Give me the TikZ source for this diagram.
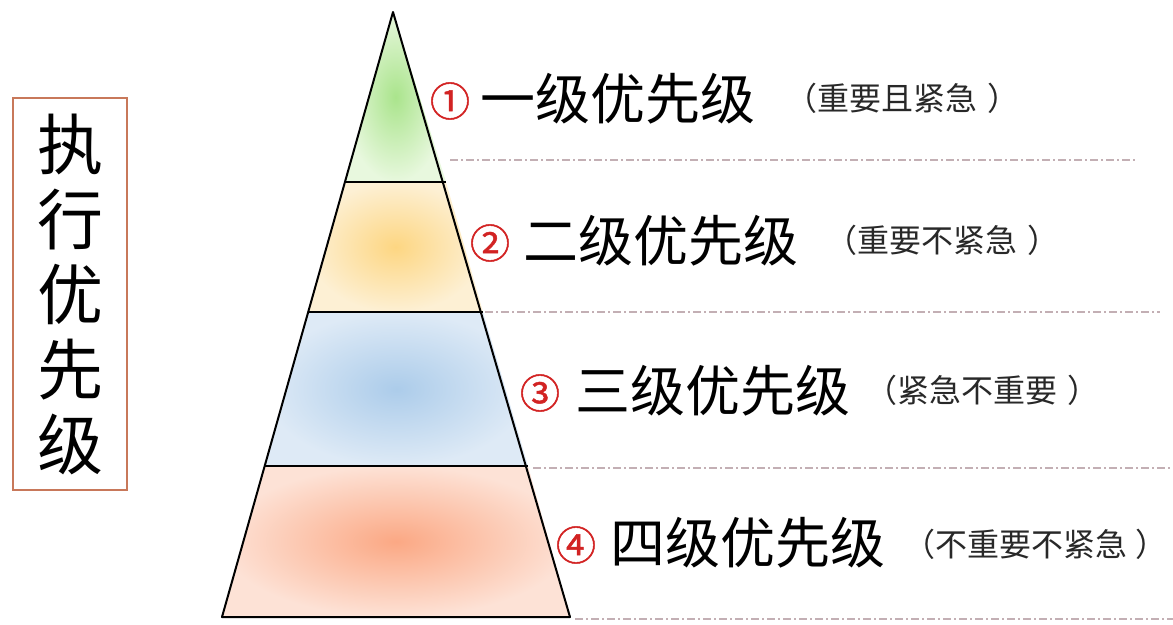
\documentclass[tikz,border=0pt]{standalone}
\usepackage{fontspec}
\newfontfamily\cjk{Noto Sans CJK SC}
\newfontfamily\numfont[FakeBold=1.2]{Noto Sans CJK SC}
\begin{document}
\begin{tikzpicture}[x=1pt,y=-1pt,
  edge/.style={draw=black,line width=2pt,line join=round},
  sep/.style={draw={rgb,255:red,195;green,175;blue,180},line width=1.4pt,dash pattern=on 8pt off 3pt on 2pt off 3pt},
  num/.style={font=\numfont\fontsize{40}{40}\selectfont,text={rgb,255:red,210;green,35;blue,35},inner sep=0pt},
  lvl/.style={font=\cjk\fontsize{55}{55}\selectfont,anchor=west,inner sep=0pt},
  note/.style={font=\cjk\fontsize{32}{32}\selectfont,anchor=west,inner sep=0pt,text={rgb,255:red,40;green,40;blue,40}}]
\useasboundingbox (0,0) rectangle (1173,624);
% pyramid corners
\coordinate (A) at (393,12);
\coordinate (L1) at (345,182); \coordinate (R1) at (446,182);
\coordinate (L2) at (308,312); \coordinate (R2) at (483,312);
\coordinate (L3) at (265,466); \coordinate (R3) at (528,466);
\coordinate (L4) at (222,617); \coordinate (R4) at (570,617);
% layers
\shade[inner color={rgb,255:red,170;green,228;blue,140},outer color={rgb,255:red,232;green,248;blue,222}] (A) -- (R1) -- (L1) -- cycle;
\shade[inner color={rgb,255:red,253;green,214;blue,130},outer color={rgb,255:red,253;green,240;blue,212}] (L1) -- (R1) -- (R2) -- (L2) -- cycle;
\shade[inner color={rgb,255:red,172;green,204;blue,234},outer color={rgb,255:red,222;green,234;blue,246}] (L2) -- (R2) -- (R3) -- (L3) -- cycle;
\shade[inner color={rgb,255:red,251;green,168;blue,132},outer color={rgb,255:red,253;green,226;blue,214}] (L3) -- (R3) -- (R4) -- (L4) -- cycle;
\draw[edge] (A) -- (R4) -- (L4) -- cycle;
\draw[edge] (L1) -- (R1);
\draw[edge] (L2) -- (R2);
\draw[edge] (L3) -- (R3);
% separators
\coordinate (s1a) at (450,160); \coordinate (s1b) at (1135,160);
\coordinate (s2a) at (485,312); \coordinate (s2b) at (1160,312);
\coordinate (s3a) at (533,468); \coordinate (s3b) at (1173,468);
\coordinate (s4a) at (575,619); \coordinate (s4b) at (1173,619);
\draw[sep] (s1a) -- (s1b);
\draw[sep] (s2a) -- (s2b);
\draw[sep] (s3a) -- (s3b);
\draw[sep] (s4a) -- (s4b);
% side box
\node[draw={rgb,255:red,200;green,120;blue,90},line width=1.5pt,minimum width=114pt,minimum height=392pt,inner sep=0pt,align=center,font=\cjk\fontsize{66}{75}\selectfont] (side) at (70,294) {执\\行\\优\\先\\级};
% labels
\node[num] (n1) at (450,101) {①};
\node[lvl] (t1) at (480,99) {一级优先级};
\node[note] (p1) at (785,98) {（重要且紧急\hspace{10pt}）};
\node[num] (n2) at (490,243) {②};
\node[lvl] (t2) at (523,241) {二级优先级};
\node[note] (p2) at (825,240) {（重要不紧急\hspace{10pt}）};
\node[num] (n3) at (540,393) {③};
\node[lvl] (t3) at (575,391) {三级优先级};
\node[note] (p3) at (865,390) {（紧急不重要\hspace{10pt}）};
\node[num] (n4) at (576,545) {④};
\node[lvl] (t4) at (610,543) {四级优先级};
\node[note] (p4) at (903,544) {（不重要不紧急\hspace{8pt}）};
\end{tikzpicture}
\end{document}
